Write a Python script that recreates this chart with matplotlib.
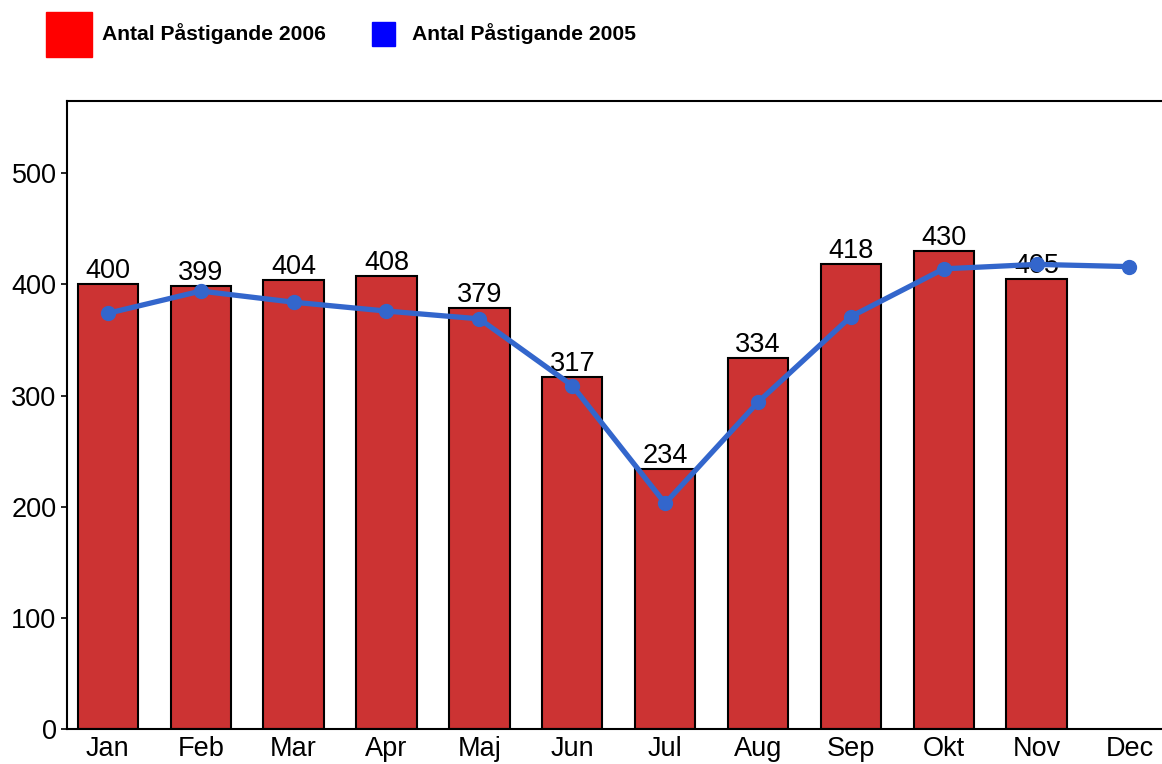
import numpy as np
import matplotlib.pyplot as plt
from matplotlib.patches import Rectangle

plt.rcParams['font.family'] = ['Liberation Sans', 'DejaVu Sans']

months = ['Jan', 'Feb', 'Mar', 'Apr', 'Maj', 'Jun', 'Jul', 'Aug', 'Sep', 'Okt', 'Nov', 'Dec']
antal_2006 = [400, 399, 404, 408, 379, 317, 234, 334, 418, 430, 405]
antal_2005 = [374, 394, 384, 376, 369, 309, 203, 294, 371, 414, 418, 416]
legend_labels = ['Antal Påstigande 2006', 'Antal Påstigande 2005']

x = np.arange(len(months))

fig = plt.figure(figsize=(11.62, 7.64), dpi=100)
ax = fig.add_axes([67 / 1162, 1 - 729 / 764, 1 - 67 / 1162, (729 - 101) / 764])

bars = ax.bar(x[:len(antal_2006)], antal_2006, width=0.65, color='#CC3333',
              edgecolor='black', linewidth=1.5, zorder=2)
ax.bar_label(bars, padding=0, fontsize=19.5)
ax.plot(x, antal_2005, color='#3366CC', lw=3.8, marker='o', markersize=10, zorder=3)

ax.set_xlim(-0.44, 11.35)
ax.set_ylim(0, 565)
ax.set_yticks([0, 100, 200, 300, 400, 500])
ax.set_xticks(x)
ax.set_xticklabels(months)
ax.tick_params(axis='y', labelsize=19.5, length=4, width=1.2)
ax.tick_params(axis='x', labelsize=19.5, length=0, pad=5)
ax.spines['right'].set_visible(False)
for s in ['left', 'top', 'bottom']:
    ax.spines[s].set_linewidth(1.5)

# legend drawn at the top of the figure
fig.patches.append(Rectangle((46 / 1162, 1 - 57 / 764), 46 / 1162, 45 / 764,
                             transform=fig.transFigure, color='#FF0000'))
fig.patches.append(Rectangle((372 / 1162, 1 - 46 / 764), 23 / 1162, 24 / 764,
                             transform=fig.transFigure, color='#0000FF'))
fig.text(102 / 1162, 1 - 34 / 764, legend_labels[0], fontsize=15.2, fontweight='bold', va='center')
fig.text(412 / 1162, 1 - 34 / 764, legend_labels[1], fontsize=15.2, fontweight='bold', va='center')

fig.savefig('out.png', dpi=100)
